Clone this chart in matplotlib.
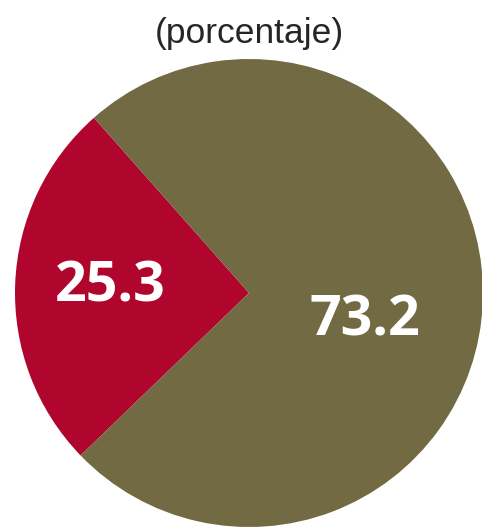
import numpy as np
import matplotlib as mpl
import matplotlib.pyplot as plt

# data
categories = ["grupo A", "grupo B"]
values = [25.3, 73.2]
value_labels = ["25.3", "73.2"]
colors = ["#B0052D", "#726A43"]
title = "(porcentaje)"

fig = plt.figure(figsize=(4.82, 5.28), dpi=100)
ax = fig.add_axes([15/482, 1/528, 468/482, 468/528])

wedges, _ = ax.pie(values, colors=colors, startangle=131.5, counterclock=True,
                   radius=1.0, wedgeprops=dict(linewidth=0))
ax.set_xlim(-1, 1)
ax.set_ylim(-1, 1)
ax.set_aspect("equal")

# label positions (angle in deg, radius fraction)
label_pos = [(177.5, 0.595), (-13.5, 0.51)]
for txt, (ang, r) in zip(value_labels, label_pos):
    a = np.deg2rad(ang)
    ax.text(r*np.cos(a), r*np.sin(a), txt, ha="center", va="center",
            color="white", fontsize=40, fontweight="bold", family="Open Sans")

fig.text(249/482, 1 - 33/528, title, ha="center", va="center",
         fontsize=25.5, color="#262626", family="Liberation Sans")

plt.savefig("out.png", dpi=100)
